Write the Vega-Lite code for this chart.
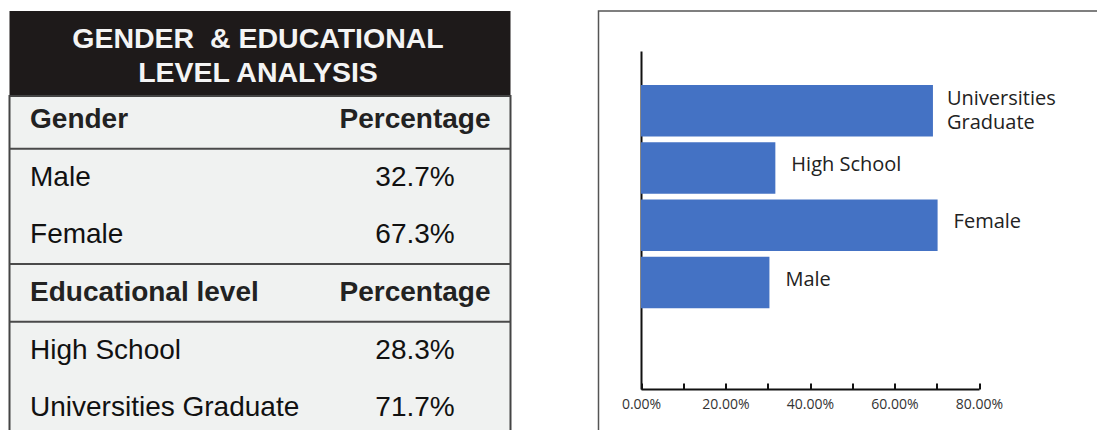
{
  "$schema": "https://vega.github.io/schema/vega-lite/v6.json",
  "background": "white",
  "padding": {"left": 7.5, "top": 10, "right": 0, "bottom": 0},
  "config": {"view": {"stroke": null}},
  "datasets": {
    "table": [
      {"label": "Gender", "pct": "Percentage", "kind": "header"},
      {"label": "Male", "pct": "32.7%", "kind": "item"},
      {"label": "Female", "pct": "67.3%", "kind": "item"},
      {"label": "Educational level", "pct": "Percentage", "kind": "header"},
      {"label": "High School", "pct": "28.3%", "kind": "item"},
      {"label": "Universities Graduate", "pct": "71.7%", "kind": "item"}
    ],
    "bars": [
      {"category": "Universities\nGraduate", "value": 0.691},
      {"category": "High School", "value": 0.318},
      {"category": "Female", "value": 0.702},
      {"category": "Male", "value": 0.304}
    ],
    "title": [{"title": "GENDER \u00a0& EDUCATIONAL\nLEVEL ANALYSIS"}]
  },
  "hconcat": [
    {
      "spacing": 0,
      "bounds": "flush",
      "vconcat": [
        {
          "width": 501,
          "height": 85,
          "view": {"fill": "#1e1a1a", "stroke": null},
          "data": {"name": "title"},
          "mark": {"type": "text", "font": "Liberation Sans", "fontWeight": "bold", "fontSize": 28.5, "color": "#f4f4f4", "align": "center", "baseline": "middle", "lineBreak": "\n", "lineHeight": 34, "dy": -15, "dx": -2},
          "encoding": {"text": {"field": "title"}}
        },
        {
          "width": 501,
          "height": 340,
          "view": {"fill": "#f0f2f1", "stroke": "#444444", "strokeWidth": 2},
          "data": {"name": "table"},
          "encoding": {
            "y": {"field": "label", "type": "nominal", "axis": null,
                  "scale": {"type": "band", "domain": ["Gender", "Male", "Female", "Educational level", "High School", "Universities Graduate"], "range": [-5, 341], "paddingInner": 0, "paddingOuter": 0}}
          },
          "layer": [
            {
              "transform": [{"filter": {"field": "label", "oneOf": ["Male", "Educational level", "High School"]}}],
              "mark": {"type": "rule", "color": "#4a4a4a", "strokeWidth": 2},
              "encoding": {"y": {"field": "label", "type": "nominal", "bandPosition": 0}}
            },
            {
              "transform": [{"filter": "datum.kind == 'item'"}],
              "mark": {"type": "text", "font": "Liberation Sans", "fontSize": 28, "color": "#111111", "align": "left", "baseline": "middle"},
              "encoding": {
                "x": {"datum": "Label", "type": "nominal", "axis": null, "scale": {"type": "point", "domain": ["Label", "Percentage"], "padding": 0.1506, "align": 0.177}},
                "text": {"field": "label"}
              }
            },
            {
              "transform": [{"filter": "datum.kind == 'header'"}],
              "mark": {"type": "text", "font": "Liberation Sans", "fontWeight": "bold", "fontSize": 28, "color": "#222222", "align": "left", "baseline": "middle"},
              "encoding": {
                "x": {"datum": "Label", "type": "nominal"},
                "text": {"field": "label"}
              }
            },
            {
              "transform": [{"filter": "datum.kind == 'item'"}],
              "mark": {"type": "text", "font": "Liberation Sans", "fontSize": 28, "color": "#111111", "align": "center", "baseline": "middle"},
              "encoding": {
                "x": {"datum": "Percentage", "type": "nominal"},
                "text": {"field": "pct"}
              }
            },
            {
              "transform": [{"filter": "datum.kind == 'header'"}],
              "mark": {"type": "text", "font": "Liberation Sans", "fontWeight": "bold", "fontSize": 28, "color": "#222222", "align": "center", "baseline": "middle"},
              "encoding": {
                "x": {"datum": "Percentage", "type": "nominal"},
                "text": {"field": "pct"}
              }
            }
          ]
        }
      ]
    },
    {
      "width": 505,
      "height": 430,
      "view": {"fill": "white", "stroke": "#555555", "strokeWidth": 1.5},
      "data": {"name": "bars"},
      "encoding": {
        "y": {"field": "category", "type": "nominal",
              "scale": {"type": "band", "domain": ["Universities\nGraduate", "High School", "Female", "Male"], "range": [40, 378], "paddingInner": 0.1, "paddingOuter": 1.16, "align": 0.296, "round": false},
              "axis": {"orient": "left", "offset": -42.5, "title": null, "labels": false, "ticks": false, "grid": false, "domainColor": "#111111", "domainWidth": 2, "minExtent": 0, "maxExtent": 0}},
        "x": {"field": "value", "type": "quantitative",
              "scale": {"domain": [0, 0.8], "range": [42.5, 380.5], "nice": false, "zero": true},
              "axis": {"orient": "bottom", "offset": -52, "title": null, "grid": false,
                       "values": [0, 0.1, 0.2, 0.3, 0.4, 0.5, 0.6, 0.7, 0.8],
                       "labelExpr": "round(datum.value*100) % 20 == 0 ? format(datum.value, '.2%') : ''",
                       "labelFlush": false, "labelOverlap": false,
                       "domainColor": "#111111", "domainWidth": 2,
                       "tickColor": "#111111", "tickWidth": 2, "tickSize": -6,
                       "labelFont": "Open Sans", "labelFontSize": 14, "labelColor": "#333333", "labelPadding": 14, "minExtent": 0, "maxExtent": 0}}
      },
      "layer": [
        {"mark": {"type": "bar", "color": "#4472c4"}},
        {"transform": [{"filter": "indexof(datum.category, '\\n') >= 0"}],
         "mark": {"type": "text", "font": "Open Sans", "fontSize": 20, "color": "#222222", "align": "left", "baseline": "middle", "dx": 14, "dy": -12, "lineBreak": "\n", "lineHeight": 24},
         "encoding": {"text": {"field": "category"}}},
        {"transform": [{"filter": "indexof(datum.category, '\\n') < 0"}],
         "mark": {"type": "text", "font": "Open Sans", "fontSize": 20, "color": "#222222", "align": "left", "baseline": "middle", "dx": 16, "dy": -3},
         "encoding": {"text": {"field": "category"}}}
      ]
    }
  ],
  "spacing": 85
}
